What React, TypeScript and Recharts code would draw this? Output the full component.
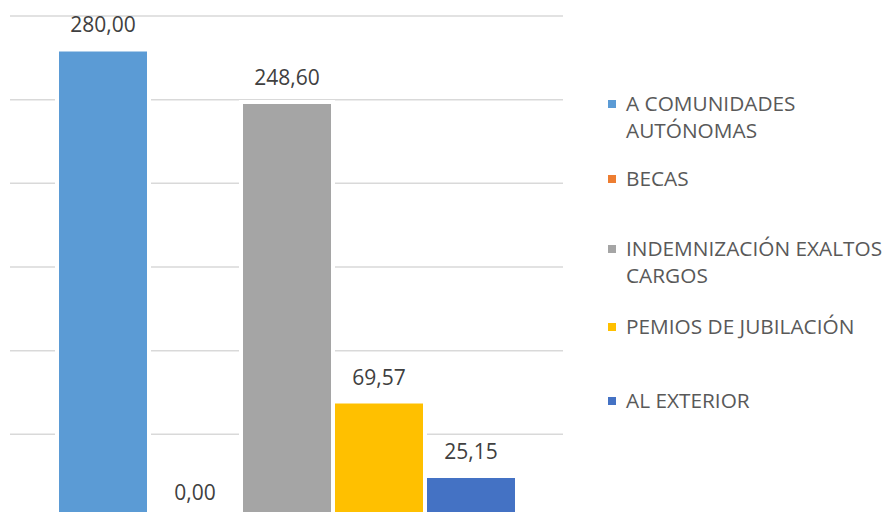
import React from 'react';
import { BarChart, Bar, XAxis, YAxis, CartesianGrid, LabelList } from 'recharts';

const categories = ['Total'];
const seriesNames = [
  'A COMUNIDADES AUTÓNOMAS',
  'BECAS',
  'INDEMNIZACIÓN EXALTOS CARGOS',
  'PEMIOS DE JUBILACIÓN',
  'AL EXTERIOR',
];
const seriesKeys = ['s0', 's1', 's2', 's3', 's4'];
const seriesValues = [280.0, 0.0, 248.6, 69.57, 25.15];
const seriesColors = ['#5B9BD5', '#ED7D31', '#A5A5A5', '#FFC000', '#4472C4'];
const yTicks = [0, 50, 100, 150, 200, 250, 300];

const data = categories.map((c) => {
  const row: any = { name: c };
  seriesKeys.forEach((k, i) => (row[k] = seriesValues[i]));
  return row;
});

const FONT = '"Open Sans", sans-serif';
const fmt = (v: any) => Number(v).toFixed(2).replace('.', ',');

const legendCenters = [104, 179, 249, 327, 401];

const LegendBox = () => (
  <div style={{ position: 'absolute', left: 0, top: 0, width: 887, height: 512, fontFamily: FONT, pointerEvents: 'none' }}>
    {seriesNames.map((n, i) => (
      <div key={n}>
        <div
          style={{
            position: 'absolute',
            left: 608,
            top: legendCenters[i] - 4,
            width: 8,
            height: 8,
            background: seriesColors[i],
          }}
        />
        <div
          style={{
            position: 'absolute',
            left: 626,
            top: legendCenters[i] - 14,
            width: 262,
            fontSize: 20.8,
            lineHeight: '27px',
            color: '#595959',
            whiteSpace: 'normal',
          }}
        >
          {n}
        </div>
      </div>
    ))}
  </div>
);

const ValueLabel = (props: any) => {
  const { x, y, width, value } = props;
  return (
    <text
      x={x + width / 2}
      y={y - 17}
      textAnchor="middle"
      fill="#404040"
      fontSize={21}
      fontFamily={FONT}
    >
      {fmt(value)}
    </text>
  );
};

export default function App() {
  return (
    <div style={{ position: 'absolute', left: 0, top: 0, width: 887, height: 512, overflow: 'hidden', background: '#fff' }}>
      <BarChart
        width={887}
        height={530}
        data={data}
        margin={{ top: 16, right: 324, bottom: 12, left: 10 }}
        barGap={0}
        barSize={92}
      >
        <CartesianGrid vertical={false} stroke="#d9d9d9" strokeWidth={1.5} />
        <XAxis dataKey="name" hide />
        <YAxis hide domain={[0, 300]} ticks={yTicks} />
        {seriesKeys.map((k, i) => (
          <Bar
            key={k}
            dataKey={k}
            name={seriesNames[i]}
            fill={seriesColors[i]}
            stroke="#ffffff"
            strokeWidth={4}
            minPointSize={1}
            isAnimationActive={false}
          >
            <LabelList dataKey={k} content={<ValueLabel />} />
          </Bar>
        ))}
      </BarChart>
      <LegendBox />
    </div>
  );
}
